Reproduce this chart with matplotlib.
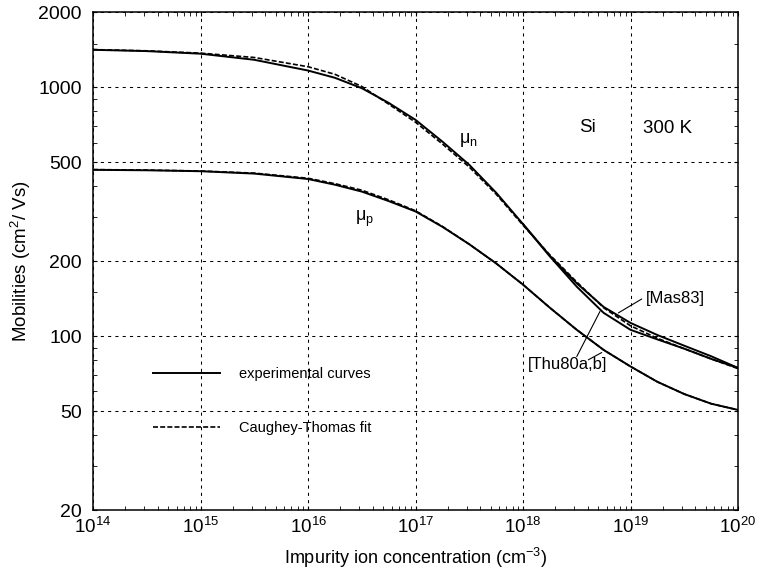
import matplotlib
matplotlib.use('Agg')
import matplotlib.pyplot as plt
from matplotlib.ticker import (FixedLocator, FixedFormatter, LogLocator,
                               LogFormatterSciNotation, NullFormatter)

plt.rcParams['font.family'] = ['Liberation Sans', 'DejaVu Sans']
plt.rcParams['mathtext.fontset'] = 'custom'
plt.rcParams['mathtext.rm'] = 'Liberation Sans'
plt.rcParams['mathtext.it'] = 'Liberation Sans:italic'

# impurity concentration, log10(N / cm^-3)
log_n = [14.0, 14.5, 15.0, 15.5, 16.0, 16.25, 16.5, 16.75, 17.0, 17.25,
         17.5, 17.75, 18.0, 18.25, 18.5, 18.75, 19.0, 19.25, 19.5, 19.75, 20.0]

# electron mobility, experimental [Thu80a,b]
mu_n_exp = [1415, 1398, 1365, 1290, 1168, 1092, 992, 866, 740, 605,
            488, 377, 282, 209, 158, 124, 106, 97, 89, 81, 74.5]
# electron mobility, experimental [Mas83] (high doping branch)
log_n_mas = [18.0, 18.25, 18.5, 18.75, 19.0, 19.25, 19.5, 19.75, 20.0]
mu_n_mas = [282, 210, 163, 131, 113, 101, 91.5, 83, 74.5]
# electron mobility, Caughey-Thomas fit
mu_n_fit = [1418, 1402, 1372, 1318, 1210, 1128, 1008, 856, 724, 592,
            478, 372, 279, 212, 165, 130, 110, 98, 89, 81, 74]

# hole mobility, experimental and fit
mu_p_exp = [466, 464, 460, 450, 428, 406, 381, 349, 317, 275,
            234, 196, 161, 130, 106, 88, 75.5, 65.5, 58.5, 53.5, 50.5]
mu_p_fit = [467, 465, 461, 452, 431, 410, 386, 353, 319, 276,
            234, 196, 161, 130, 106, 88, 75.5, 65.5, 58.5, 53.5, 50.5]

x_major = [1e14, 1e15, 1e16, 1e17, 1e18, 1e19, 1e20]
y_major = [20, 50, 100, 200, 500, 1000, 2000]
y_minor = [30, 40, 60, 70, 80, 90, 150, 300, 400, 600, 700, 800, 900, 1500]

conc = [10 ** v for v in log_n]
conc_mas = [10 ** v for v in log_n_mas]

fig = plt.figure(figsize=(7.6, 5.75), dpi=100)
ax = fig.add_axes([0.1224, 0.1130, 0.8487, 0.8654])

ax.plot(conc, mu_n_exp, c='k', lw=1.4, label='experimental curves')
ax.plot(conc_mas, mu_n_mas, c='k', lw=1.4)
ax.plot(conc, mu_n_fit, c='k', lw=1.2, ls=(0, (3, 1.3)), label='Caughey-Thomas fit')
ax.plot(conc, mu_p_exp, c='k', lw=1.4)
ax.plot(conc, mu_p_fit, c='k', lw=1.2, ls=(0, (3, 1.3)))

ax.set_xscale('log')
ax.set_yscale('log')
ax.set_xlim(1e14, 1e20)
ax.set_ylim(20, 2000)

ax.yaxis.set_major_locator(FixedLocator(y_major))
ax.yaxis.set_major_formatter(FixedFormatter([str(v) for v in y_major]))
ax.yaxis.set_minor_locator(FixedLocator(y_minor))
ax.yaxis.set_minor_formatter(NullFormatter())
ax.xaxis.set_major_locator(FixedLocator(x_major))
ax.xaxis.set_major_formatter(LogFormatterSciNotation())
ax.xaxis.set_minor_locator(LogLocator(base=10, subs=range(2, 10), numticks=100))
ax.xaxis.set_minor_formatter(NullFormatter())

ax.grid(True, which='major', color='k', lw=0.75, ls=(0, (3, 4)))
ax.tick_params(which='both', direction='in', top=True, right=True, colors='k')
ax.tick_params(axis='y', which='major', length=3, pad=8, labelsize=14)
ax.tick_params(axis='x', which='major', length=3, pad=5, labelsize=13.5)
ax.tick_params(which='minor', length=3)
for sp in ax.spines.values():
    sp.set_linewidth(1.1)

ax.set_xlabel(r'Impurity ion concentration (cm$^{-3}$)', fontsize=13)
ax.set_ylabel(r'Mobilities (cm$^2$/ Vs)', fontsize=13.5)
ax.xaxis.set_label_coords(0.5, -0.072)
ax.yaxis.set_label_coords(-0.093, 0.5)

ax.text(10 ** 17.49, 615, r'μ$_\mathregular{n}$', fontsize=13, ha='center', va='center')
ax.text(10 ** 16.53, 296, r'μ$_\mathregular{p}$', fontsize=13, ha='center', va='center')
ax.text(10 ** 18.595, 687, 'Si', fontsize=13.5, ha='center', va='center')
ax.text(10 ** 19.34, 681, '300 K', fontsize=13.5, ha='center', va='center')
ax.text(10 ** 19.42, 141, '[Mas83]', fontsize=12, ha='center', va='center')
ax.text(10 ** 18.41, 77, '[Thu80a,b]', fontsize=12, ha='center', va='center')

line_kw = dict(arrowstyle='-', color='k', lw=0.8, shrinkA=0, shrinkB=0)
ax.annotate('', xy=(10 ** 18.887, 124), xytext=(10 ** 19.104, 141), arrowprops=line_kw)
ax.annotate('', xy=(10 ** 18.716, 125.7), xytext=(10 ** 18.50, 82.8), arrowprops=line_kw)
ax.annotate('', xy=(10 ** 18.732, 85.9), xytext=(10 ** 18.607, 80.3), arrowprops=line_kw)

ax.legend(loc='center left', bbox_to_anchor=(0.093, 0.219), frameon=False,
          fontsize=10.5, handlelength=4.6, handletextpad=1.3, labelspacing=2.7,
          borderpad=0, borderaxespad=0)

fig.savefig('out.png', dpi=100)
